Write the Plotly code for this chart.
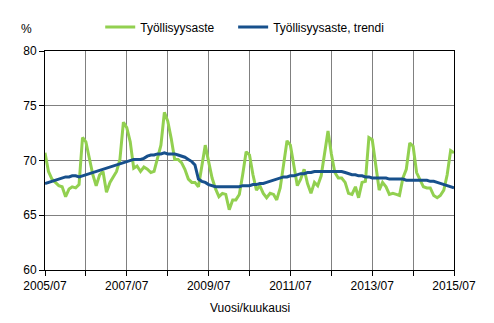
import pandas as pd
import plotly.graph_objects as go

# Monthly employment rate, 2005/07 - 2015/07 (%)
months = pd.date_range("2005-07-01", "2015-07-01", freq="MS")

tyollisyysaste = [
    70.7, 69.0, 68.3, 68.0, 67.7, 67.6, 66.7, 67.4, 67.6, 67.5, 67.8, 72.1,
    71.7, 70.2, 68.7, 67.7, 68.7, 69.0, 67.1, 68.0, 68.5, 69.0, 70.1, 73.5,
    73.0, 71.7, 69.3, 69.5, 69.0, 69.4, 69.2, 68.9, 69.0, 70.1, 71.4, 74.4,
    73.6, 72.0, 70.1, 70.1, 69.8, 69.2, 68.3, 68.0, 68.0, 67.6, 69.3, 71.4,
    69.9, 68.4, 67.4, 66.7, 67.0, 66.9, 65.5, 66.4, 66.4, 66.9, 68.7, 70.8,
    70.5, 68.7, 67.3, 67.7, 67.0, 66.6, 67.0, 66.9, 66.4, 67.5, 69.6, 71.8,
    71.4, 69.6, 67.7, 68.3, 69.2, 67.9, 67.0, 68.0, 67.7, 68.6, 70.8, 72.7,
    70.6, 68.9, 68.4, 68.4, 68.0, 67.0, 66.9, 67.6, 66.6, 68.0, 68.1, 72.1,
    71.9, 69.6, 67.3, 68.0, 67.6, 66.9, 67.0, 66.9, 66.8, 68.4, 69.2, 71.6,
    71.3, 68.9, 68.3, 67.6, 67.5, 67.5, 66.8, 66.6, 66.8, 67.3, 68.7, 70.9,
    70.7,
]

trendi = [
    67.9, 68.0, 68.1, 68.2, 68.3, 68.4, 68.5, 68.5, 68.6, 68.6, 68.5, 68.6,
    68.7, 68.8, 68.9, 69.0, 69.1, 69.2, 69.3, 69.4, 69.5, 69.6, 69.7, 69.8,
    69.9, 70.0, 70.1, 70.1, 70.1, 70.2, 70.4, 70.5, 70.5, 70.6, 70.6, 70.7,
    70.6, 70.6, 70.6, 70.5, 70.4, 70.3, 70.1, 69.9, 69.6, 68.3, 68.1, 68.0,
    67.8, 67.7, 67.6, 67.6, 67.6, 67.6, 67.6, 67.6, 67.6, 67.6, 67.7, 67.7,
    67.7, 67.8, 67.8, 67.9, 67.9, 68.0, 68.1, 68.2, 68.3, 68.4, 68.5, 68.5,
    68.6, 68.6, 68.7, 68.8, 68.8, 68.9, 68.9, 69.0, 69.0, 69.0, 69.0, 69.0,
    69.05, 69.05, 69.0, 69.0, 68.9, 68.8, 68.7, 68.7, 68.6, 68.6, 68.5, 68.5,
    68.4, 68.4, 68.4, 68.4, 68.4, 68.3, 68.3, 68.3, 68.3, 68.3, 68.2, 68.2,
    68.2, 68.2, 68.2, 68.2, 68.2, 68.1, 68.1, 68.0, 67.9, 67.8, 67.7, 67.6,
    67.5,
]

# Yearly grid, labels every second year
tick_dates = pd.date_range("2005-07-01", "2015-07-01", freq="12MS")
tick_labels = [d.strftime("%Y/%m") if i % 2 == 0 else "" for i, d in enumerate(tick_dates)]

font = dict(family="Liberation Sans, Arial, sans-serif", size=12, color="#000000")

fig = go.Figure()
fig.add_trace(go.Scatter(
    x=months, y=tyollisyysaste, mode="lines", name="Työllisyysaste",
    line=dict(color="#92D050", width=3), legend="legend",
))
fig.add_trace(go.Scatter(
    x=months, y=trendi, mode="lines", name="Työllisyysaste, trendi",
    line=dict(color="#17508C", width=3), legend="legend2",
))

legend_common = dict(
    orientation="h", xanchor="left", y=1.11, yanchor="middle",
    font=font, itemwidth=30, bgcolor="rgba(0,0,0,0)",
)

fig.update_layout(
    width=494, height=323,
    margin=dict(l=45, r=40, t=45, b=53),
    paper_bgcolor="white", plot_bgcolor="white",
    font=font,
    showlegend=True,
    legend=dict(x=0.135, **legend_common),
    legend2=dict(x=0.46, **legend_common),
    xaxis=dict(
        range=[months[0], months[-1]],
        tickvals=tick_dates, ticktext=tick_labels,
        showgrid=True, gridcolor="#808080", gridwidth=1,
        showline=True, linecolor="#000000", linewidth=1, mirror=True,
        ticks="outside", ticklen=5, tickcolor="#000000",
        zeroline=False, automargin=False,
    ),
    yaxis=dict(
        range=[60, 80], tickvals=[60, 65, 70, 75, 80],
        showgrid=True, gridcolor="#808080", gridwidth=1,
        showline=True, linecolor="#000000", linewidth=1, mirror=True,
        ticks="outside", ticklen=5, tickcolor="#000000",
        zeroline=False, automargin=False,
    ),
    annotations=[
        dict(
            text="%", xref="paper", yref="paper", x=-0.045, y=1.10,
            xanchor="center", yanchor="middle", showarrow=False, font=font,
        ),
        dict(
            text="Vuosi/kuukausi", xref="paper", yref="paper", x=0.5, y=-0.175,
            xanchor="center", yanchor="middle", showarrow=False, font=font,
        ),
    ],
)

fig.write_html("out.html")
